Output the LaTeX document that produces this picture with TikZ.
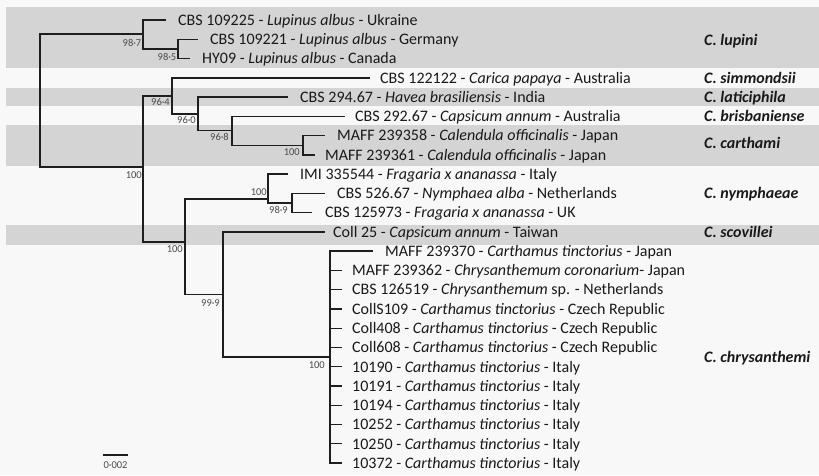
\documentclass[tikz,border=0pt]{standalone}
\usepackage{fontspec}
\setmainfont{Carlito}
\definecolor{linec}{HTML}{1E1E1E}
\definecolor{bandc}{HTML}{D4D4D4}
\definecolor{bgc}{HTML}{F8F8F8}
\definecolor{supc}{HTML}{4A4A4A}
\begin{document}
\begin{tikzpicture}[x=1pt,y=-1pt,
  br/.style={draw=linec, line width=1.4pt},
  leaf/.style={anchor=base west, inner sep=0pt, yshift=-5.3pt, font=\fontsize{16}{18}\selectfont, text=black!90},
  sup/.style={anchor=east, inner sep=0pt, font=\fontsize{10.5}{12}\selectfont, text=supc},
  spname/.style={anchor=base west, inner sep=0pt, yshift=-5.3pt, font=\fontsize{16}{18}\selectfont\bfseries\itshape, text=black!90},
  band/.style={fill=bandc, draw=none}]
\useasboundingbox (0,0) rectangle (819,475);
\fill[bgc] (0,0) rectangle (819,475);
% bands
\fill[band] (6,7) rectangle (819,68);
\fill[band] (6,88) rectangle (819,106);
\fill[band] (6,125) rectangle (819,166);
\fill[band] (6,225) rectangle (819,245);

% leaf tips
\coordinate (t1) at (166,20);
\coordinate (t2) at (198,39.3);
\coordinate (t3) at (190,58.5);
\coordinate (t4) at (370,77.8);
\coordinate (t5) at (288,97);
\coordinate (t6) at (345,116.3);
\coordinate (t7) at (325,135.6);
\coordinate (t8) at (315,154.8);
\coordinate (t9) at (288,174.1);
\coordinate (t10) at (325,193.3);
\coordinate (t11) at (312,212.6);
\coordinate (t12) at (325,231.9);
\coordinate (t13) at (373,251.1);
\coordinate (t14) at (342,270.4);
\coordinate (t15) at (342,289.6);
\coordinate (t16) at (342,308.9);
\coordinate (t17) at (342,328.2);
\coordinate (t18) at (342,347.4);
\coordinate (t19) at (342,366.7);
\coordinate (t20) at (342,385.9);
\coordinate (t21) at (342,405.2);
\coordinate (t22) at (342,424.5);
\coordinate (t23) at (342,443.7);
\coordinate (t24) at (342,463.0);

% internal nodes
\coordinate (nlup2) at (178,48.9);
\coordinate (nlup) at (143,34);
\coordinate (ncarth) at (303,145.2);
\coordinate (ncb) at (232,130.7);
\coordinate (nlat) at (198,113.9);
\coordinate (nsim) at (172,95.8);
\coordinate (nnym2) at (292,203);
\coordinate (nnym) at (268,199);
\coordinate (nchr) at (330,357);
\coordinate (nsc) at (223,294.5);
\coordinate (nmid) at (185,242);
\coordinate (nbig) at (143,167);
\coordinate (root) at (40,100);

% branches
\draw[br] (root) |- (nlup);
\draw[br] (root) |- (nbig);
\draw[br] (nlup) |- (t1);
\draw[br] (nlup) |- (nlup2);
\draw[br] (nlup2) |- (t2);
\draw[br] (nlup2) |- (t3);
\draw[br] (nbig) |- (nsim);
\draw[br] (nbig) |- (nmid);
\draw[br] (nsim) |- (t4);
\draw[br] (nsim) |- (nlat);
\draw[br] (nlat) |- (t5);
\draw[br] (nlat) |- (ncb);
\draw[br] (ncb) |- (t6);
\draw[br] (ncb) |- (ncarth);
\draw[br] (ncarth) |- (t7);
\draw[br] (ncarth) |- (t8);
\draw[br] (nmid) |- (nnym);
\draw[br] (nmid) |- (nsc);
\draw[br] (nnym) |- (t9);
\draw[br] (nnym) |- (nnym2);
\draw[br] (nnym2) |- (t10);
\draw[br] (nnym2) |- (t11);
\draw[br] (nsc) |- (t12);
\draw[br] (nsc) |- (nchr);
\foreach \i in {13,...,24} { \draw[br] (nchr) |- (t\i); }

% leaf labels
\node[leaf] (l1) at (178,20) {CBS 109225 - \textit{Lupinus albus} - Ukraine};
\node[leaf] (l2) at (210,39.3) {CBS 109221 - \textit{Lupinus albus} - Germany};
\node[leaf] (l3) at (202,58.5) {HY09 - \textit{Lupinus albus} - Canada};
\node[leaf] (l4) at (380,77.8) {CBS 122122 - \textit{Carica papaya} - Australia};
\node[leaf] (l5) at (300,97) {CBS 294.67 - \textit{Havea brasiliensis} - India};
\node[leaf] (l6) at (355,116.3) {CBS 292.67 - \textit{Capsicum annum} - Australia};
\node[leaf] (l7) at (337,135.6) {MAFF 239358 - \textit{Calendula officinalis} - Japan};
\node[leaf] (l8) at (325,154.8) {MAFF 239361 - \textit{Calendula officinalis} - Japan};
\node[leaf] (l9) at (300,174.1) {IMI 335544 - \textit{Fragaria x ananassa} - Italy};
\node[leaf] (l10) at (337,193.3) {CBS 526.67 - \textit{Nymphaea alba} - Netherlands};
\node[leaf] (l11) at (325,212.6) {CBS 125973 - \textit{Fragaria x ananassa} - UK};
\node[leaf] (l12) at (333,231.9) {Coll 25 - \textit{Capsicum annum} - Taiwan};
\node[leaf] (l13) at (385,251.1) {MAFF 239370 - \textit{Carthamus tinctorius} - Japan};
\node[leaf] (l14) at (352,270.4) {MAFF 239362 - \textit{Chrysanthemum coronarium}- Japan};
\node[leaf] (l15) at (352,289.6) {CBS 126519 - \textit{Chrysanthemum} sp. - Netherlands};
\node[leaf] (l16) at (352,308.9) {CollS109 - \textit{Carthamus tinctorius} - Czech Republic};
\node[leaf] (l17) at (352,328.2) {Coll408 - \textit{Carthamus tinctorius} - Czech Republic};
\node[leaf] (l18) at (352,347.4) {Coll608 - \textit{Carthamus tinctorius} - Czech Republic};
\node[leaf] (l19) at (352,366.7) {10190 - \textit{Carthamus tinctorius} - Italy};
\node[leaf] (l20) at (352,385.9) {10191 - \textit{Carthamus tinctorius} - Italy};
\node[leaf] (l21) at (352,405.2) {10194 - \textit{Carthamus tinctorius} - Italy};
\node[leaf] (l22) at (352,424.5) {10252 - \textit{Carthamus tinctorius} - Italy};
\node[leaf] (l23) at (352,443.7) {10250 - \textit{Carthamus tinctorius} - Italy};
\node[leaf] (l24) at (352,463.0) {10372 - \textit{Carthamus tinctorius} - Italy};

% support values
\node[sup] (s1) at (141.5,43) {98·7};
\node[sup] (s2) at (176.5,57) {98·5};
\node[sup] (s3) at (170,102) {96·4};
\node[sup] (s4) at (196,119.5) {96·0};
\node[sup] (s5) at (229,137) {96·8};
\node[sup] (s6) at (300,152) {100};
\node[sup] (s7) at (142,175) {100};
\node[sup] (s8) at (267,192) {100};
\node[sup] (s9) at (288,210) {98·9};
\node[sup] (s10) at (183,249) {100};
\node[sup] (s11) at (220,303) {99·9};
\node[sup] (s12) at (325,365) {100};

% species names
\node[spname] (c1) at (704,40) {C. lupini};
\node[spname] (c2) at (704,77.8) {C. simmondsii};
\node[spname] (c3) at (704,97) {C. laticiphila};
\node[spname] (c4) at (704,116.3) {C. brisbaniense};
\node[spname] (c5) at (704,143) {C. carthami};
\node[spname] (c6) at (704,193.3) {C. nymphaeae};
\node[spname] (c7) at (704,231.9) {C. scovillei};
\node[spname] (c8) at (704,357) {C. chrysanthemi};

% scale bar
\coordinate (sb1) at (103,455);
\coordinate (sb2) at (128,455);
\draw[draw=linec, line width=1.2pt] (sb1) -- (sb2);
\node[sup, anchor=center] (sbl) at (115.5,465) {0·002};
\end{tikzpicture}
\end{document}
